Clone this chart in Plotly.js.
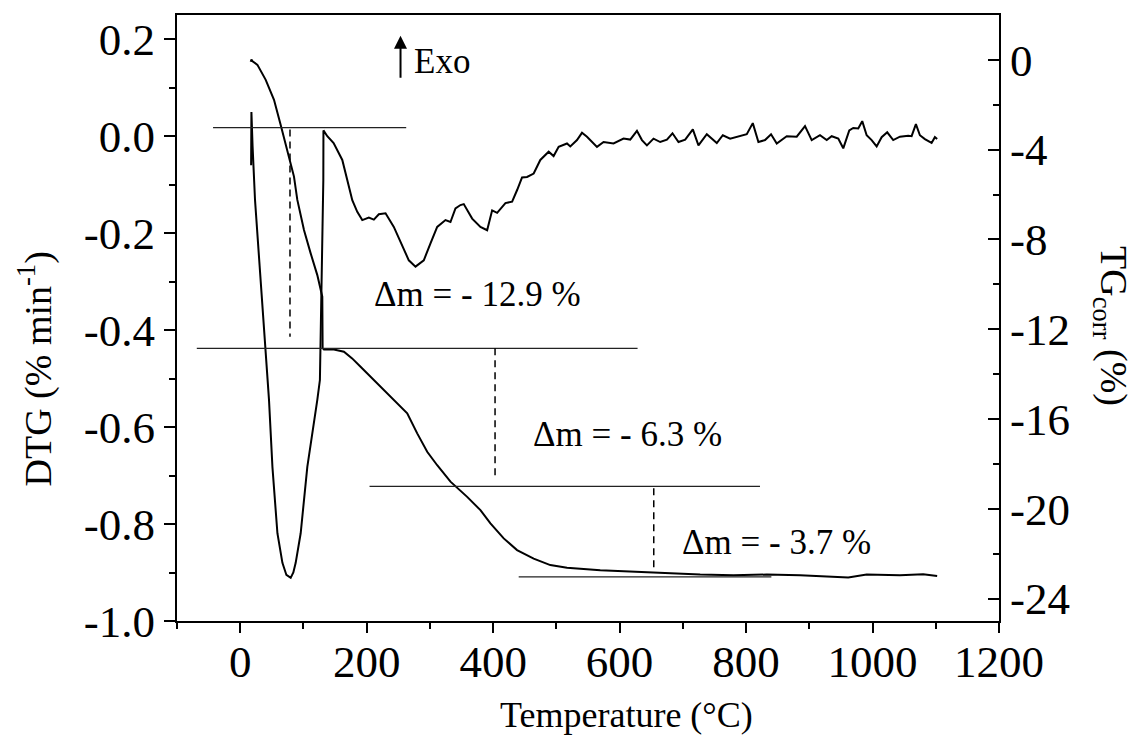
<!DOCTYPE html>
<html>
<head>
<meta charset="utf-8">
<script src="https://cdn.plot.ly/plotly-3.0.1.min.js"></script>
<style>html,body{margin:0;padding:0;background:#fff;}#chart{width:1134px;height:735px;}</style>
</head>
<body>
<div id="chart"></div>
<script>
// DTG curve (left axis, % min^-1) vs temperature (°C)
var tempDTG = [17.2,17.7,19.5,21.5,23.4,45.5,50.9,58.8,66.7,73,79.8,84,87.7,95.6,106.1,121.9,126,131.4,131.6,137.7,147.7,161.4,169.3,177.2,185.1,193.0,203.4,211.3,219.2,229.8,242.9,258.7,266.6,277.2,290.3,300.9,311.5,324.6,332.5,340.4,348.3,353.5,366.8,379.9,390.5,398.4,406.3,419.4,430,437.9,445.7,453.6,464.1,474.6,487.8,495.6,503.6,516.8,522,532.6,540.5,548.4,564.2,574.6,590.4,606.2,616.8,627.4,635.3,643.2,653.6,664.2,674.8,683.6,693.1,703.7,715.8,724.7,737.9,753.7,763.2,774.8,790.6,801.1,810.6,819.5,830,839.5,848.5,864.3,880.1,893.2,903.8,916.9,927.5,935.4,945.8,953.7,963.2,969.5,977.4,983.7,990.7,998.6,1006.5,1014.4,1023.2,1032.7,1043.3,1056.4,1061.8,1068.6,1074.9,1082.8,1093.4,1098.6,1102.2];
var dtg = [-0.06,0.05,-0.02,-0.09,-0.132,-0.544,-0.682,-0.819,-0.880,-0.905,-0.911,-0.900,-0.880,-0.819,-0.682,-0.544,-0.503,-0.091,0.012,0.000,-0.014,-0.049,-0.091,-0.132,-0.156,-0.173,-0.168,-0.172,-0.161,-0.159,-0.187,-0.235,-0.256,-0.269,-0.256,-0.221,-0.187,-0.173,-0.177,-0.149,-0.142,-0.140,-0.170,-0.187,-0.194,-0.153,-0.158,-0.138,-0.135,-0.111,-0.085,-0.084,-0.077,-0.049,-0.032,-0.041,-0.022,-0.015,-0.021,-0.008,0.007,-0.001,-0.022,-0.012,-0.015,-0.005,-0.007,0.011,-0.008,-0.019,-0.005,-0.012,-0.007,0.006,-0.012,-0.007,0.014,-0.019,0.004,-0.014,0.002,-0.005,0.000,0.004,0.027,-0.012,-0.008,0.004,-0.015,0.000,-0.001,0.021,-0.008,0.002,-0.008,0.000,-0.005,-0.025,0.012,0.017,0.016,0.031,0.002,-0.008,-0.021,-0.002,0.008,-0.008,-0.001,0.001,0.000,0.025,0.002,-0.006,-0.014,-0.002,-0.006];

// TG_corr curve (right axis, %) vs temperature (°C)
var tempTG = [16.6,17.7,19,27.2,40.3,53.4,64.0,74.6,85.0,90.3,100.8,111.4,121.9,129.8,130.3,132.4,148.2,164,177,190.3,211.3,228,242.9,264.1,279.9,295.7,311.5,332.5,358.9,379.9,395.7,416.7,437.8,464.1,490.4,516.8,569.4,622,674.8,727.4,780,832.7,885.3,911.7,938,961.6,990.7,1016.9,1043.3,1080.1,1102.2];
var tg = [-0.08,0.02,-0.05,-0.22,-0.89,-1.78,-2.90,-4.01,-5.20,-6.24,-7.58,-8.62,-9.59,-10.55,-12.84,-12.90,-12.90,-13.00,-13.3,-13.67,-14.27,-14.75,-15.16,-15.75,-16.64,-17.46,-18.06,-18.79,-19.47,-20.06,-20.65,-21.32,-21.84,-22.22,-22.51,-22.63,-22.74,-22.81,-22.88,-22.93,-22.96,-22.93,-22.96,-22.99,-23.04,-23.06,-22.93,-22.96,-22.96,-22.92,-22.99];

// Tick labels
var xTickVals = [0,200,400,600,800,1000,1200];
var xTickText = ['0','200','400','600','800','1000','1200'];
var xMinorVals = [-100,100,300,500,700,900,1100];
var yTickVals = [0.2,0.0,-0.2,-0.4,-0.6,-0.8,-1.0];
var yTickText = ['0.2','0.0','-0.2','-0.4','-0.6','-0.8','-1.0'];
var yMinorVals = [0.1,-0.1,-0.3,-0.5,-0.7,-0.9];
var y2TickVals = [0,-4,-8,-12,-16,-20,-24];
var y2TickText = ['0','-4','-8','-12','-16','-20','-24'];
var y2MinorVals = [-2,-6,-10,-14,-18,-22];

// Mass-loss step annotations
var stepLabels = ['\u0394m = - 12.9 %','\u0394m = - 6.3 %','\u0394m = - 3.7 %'];

var FONT = '"Liberation Serif", "DejaVu Serif", "Times New Roman", Times, serif';

var traces = [
  {x: tempDTG, y: dtg, type: 'scatter', mode: 'lines', yaxis: 'y',
   line: {color: '#000', width: 2}, hoverinfo: 'skip'},
  {x: tempTG, y: tg, type: 'scatter', mode: 'lines', yaxis: 'y2',
   line: {color: '#000', width: 2}, hoverinfo: 'skip'}
];

function hline(x0, x1, y) {
  return {type: 'line', xref: 'x', yref: 'y2', x0: x0, x1: x1, y0: y, y1: y,
          line: {color: '#222', width: 1.2}};
}
function vdash(x, y0, y1) {
  return {type: 'line', xref: 'x', yref: 'y2', x0: x, x1: x, y0: y0, y1: y1,
          line: {color: '#000', width: 1.5, dash: '7px,5px'}};
}

var layout = {
  width: 1134, height: 735,
  margin: {l: 177, r: 135, t: 15, b: 114, pad: 0},
  paper_bgcolor: '#fff', plot_bgcolor: '#fff',
  showlegend: false,
  font: {family: FONT, color: '#000'},
  xaxis: {
    range: [-100, 1200], showgrid: false, zeroline: false,
    showline: true, linewidth: 2, linecolor: '#000', mirror: true,
    tickmode: 'array', tickvals: xTickVals, ticktext: xTickText,
    ticks: 'outside', ticklen: 10, tickwidth: 2, tickcolor: '#000',
    ticklabelstandoff: -10,
    tickfont: {family: FONT, size: 45, color: '#000'},
    minor: {tickmode: 'array', tickvals: xMinorVals, ticks: 'outside', ticklen: 6, tickwidth: 2, tickcolor: '#000'}
  },
  yaxis: {
    range: [-1.0, 0.25], showgrid: false, zeroline: false,
    showline: true, linewidth: 2, linecolor: '#000',
    tickmode: 'array', tickvals: yTickVals, ticktext: yTickText,
    ticks: 'outside', ticklen: 11, tickwidth: 2, tickcolor: '#000',
    tickfont: {family: FONT, size: 45, color: '#000'},
    minor: {tickmode: 'array', tickvals: yMinorVals, ticks: 'outside', ticklen: 6, tickwidth: 2, tickcolor: '#000'}
  },
  yaxis2: {
    overlaying: 'y', side: 'right',
    range: [-25, 2], showgrid: false, zeroline: false,
    showline: true, linewidth: 2, linecolor: '#000',
    tickmode: 'array', tickvals: y2TickVals, ticktext: y2TickText,
    ticks: 'inside', ticklen: 11, tickwidth: 2, tickcolor: '#000',
    tickfont: {family: FONT, size: 45, color: '#000'},
    minor: {tickmode: 'array', tickvals: y2MinorVals, ticks: 'inside', ticklen: 6, tickwidth: 2, tickcolor: '#000'}
  },
  shapes: [
    hline(-43, 262.5, -3.02),
    hline(-68.7, 628.4, -12.85),
    hline(204.5, 822, -19.0),
    hline(440.4, 840, -23.03),
    vdash(78.7, -3.1, -12.34),
    vdash(403, -12.85, -18.64),
    vdash(654, -19.08, -22.81)
  ],
  annotations: [
    {xref: 'x', yref: 'y2', x: 376, y: -10.45, text: stepLabels[0], showarrow: false,
     xanchor: 'center', yanchor: 'middle', font: {family: FONT, size: 35, color: '#000'}},
    {xref: 'x', yref: 'y2', x: 613, y: -16.7, text: stepLabels[1], showarrow: false,
     xanchor: 'center', yanchor: 'middle', font: {family: FONT, size: 35, color: '#000'}},
    {xref: 'x', yref: 'y2', x: 848, y: -21.5, text: stepLabels[2], showarrow: false,
     xanchor: 'center', yanchor: 'middle', font: {family: FONT, size: 35, color: '#000'}},
    {xref: 'x', yref: 'y2', x: 272, y: -0.05, text: 'Exo', showarrow: false,
     xanchor: 'left', yanchor: 'middle', font: {family: FONT, size: 35, color: '#000'}},
    {xref: 'x', yref: 'y2', x: 253.5, y: 1.07, text: ' ', showarrow: true,
     ax: 0, ay: 44, arrowhead: 2, arrowsize: 1.3, arrowwidth: 2, arrowcolor: '#000',
     standoff: 0, startstandoff: 0, font: {size: 1}},
    {xref: 'paper', yref: 'paper', x: -0.172, y: 0.416, text: 'DTG (% min<sup>-1</sup>)',
     textangle: -90, showarrow: false, xanchor: 'center', yanchor: 'middle',
     font: {family: FONT, size: 38, color: '#000'}},
    {xref: 'paper', yref: 'paper', x: 0.547, y: -0.155, text: 'Temperature (\u00B0C)',
     showarrow: false, xanchor: 'center', yanchor: 'middle',
     font: {family: FONT, size: 36, color: '#000'}},
    {xref: 'paper', yref: 'paper', x: 1.136, y: 0.487, text: 'TG<sub>corr</sub> (%)',
     textangle: 90, showarrow: false, xanchor: 'center', yanchor: 'middle',
     font: {family: FONT, size: 38, color: '#000'}}
  ]
};

Plotly.newPlot('chart', traces, layout, {displayModeBar: false, staticPlot: true});
</script>
</body>
</html>
